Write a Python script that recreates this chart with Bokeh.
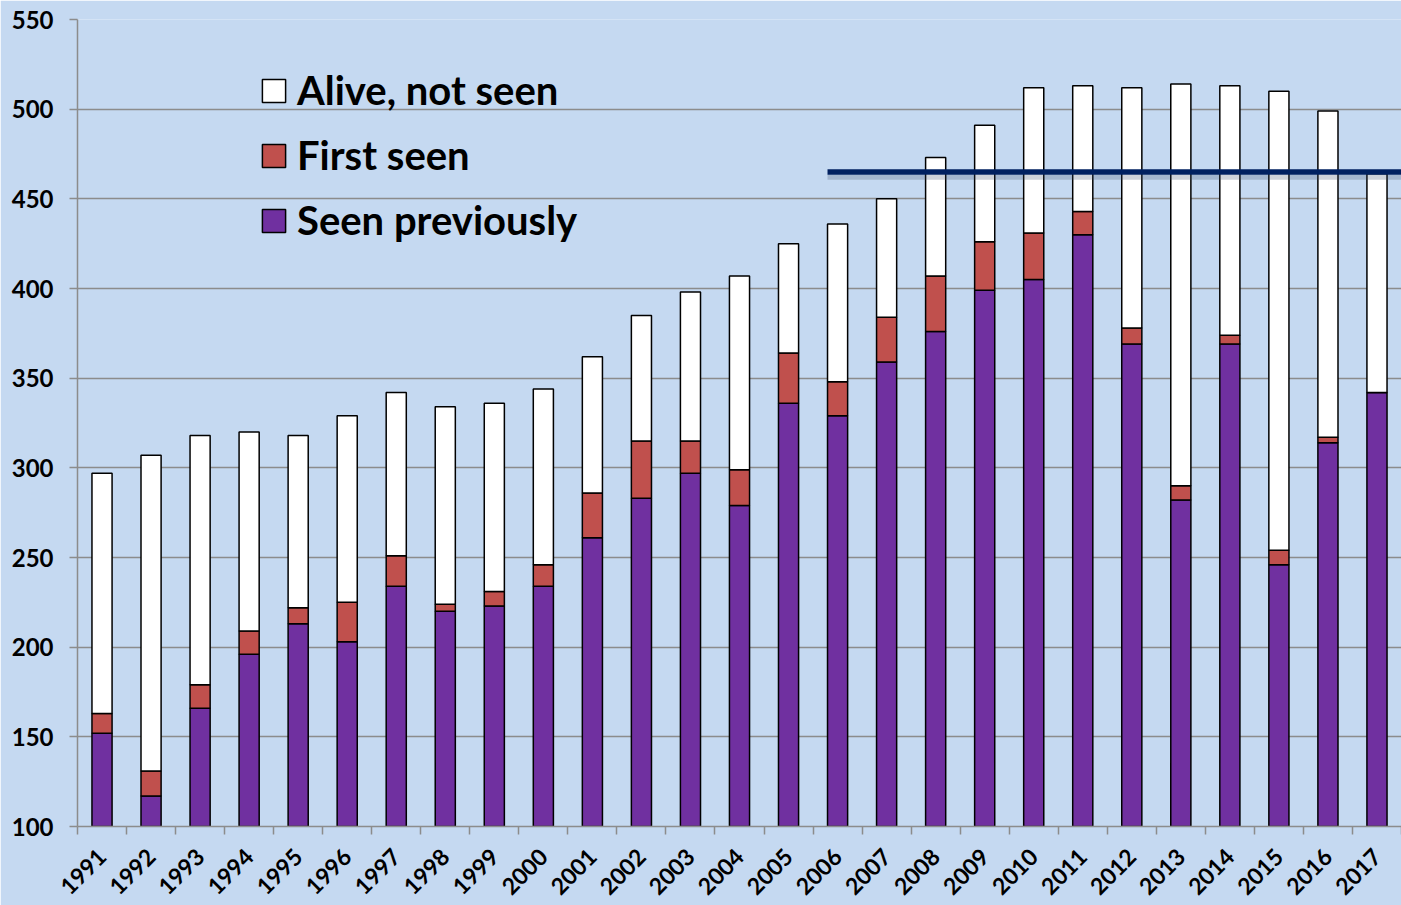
from math import pi
from bokeh.plotting import figure
from bokeh.models import Range1d, FixedTicker, ColumnDataSource, Legend, LegendItem
from bokeh.embed import file_html
from bokeh.resources import INLINE

years = ["1991", "1992", "1993", "1994", "1995", "1996", "1997", "1998", "1999",
         "2000", "2001", "2002", "2003", "2004", "2005", "2006", "2007", "2008",
         "2009", "2010", "2011", "2012", "2013", "2014", "2015", "2016", "2017"]
seen_previously = [152, 117, 166, 196, 213, 203, 234, 220, 223, 234, 261, 283, 297, 279,
                   336, 329, 359, 376, 399, 405, 430, 369, 282, 369, 246, 314, 342]
first_seen = [11, 14, 13, 13, 9, 22, 17, 4, 8, 12, 25, 32, 18, 20,
              28, 19, 25, 31, 27, 26, 13, 9, 8, 5, 8, 3, 0]
alive_not_seen = [134, 176, 139, 111, 96, 104, 91, 110, 105, 98, 76, 70, 83, 108,
                  61, 88, 66, 66, 65, 81, 70, 134, 224, 139, 256, 182, 122]
y_ticks = [100, 150, 200, 250, 300, 350, 400, 450, 500, 550]
threshold = 465
threshold_from = "2006"

BG = "#C5D9F1"
GRID = "#8C8C8C"
FONT = "Lato"
BAR_W = 0.41

xpos = list(range(len(years)))
src = ColumnDataSource(dict(x=xpos, prev=seen_previously, first=first_seen, alive=alive_not_seen))

p = figure(width=1401, height=905,
           x_range=Range1d(-0.5, len(years) - 0.5), y_range=Range1d(100, 550),
           output_backend="svg", toolbar_location=None,
           min_border_left=77, min_border_right=0, min_border_top=19, min_border_bottom=78,
           background_fill_color=BG, border_fill_color=BG, outline_line_color=None)

rs = p.vbar_stack(["prev", "first", "alive"], x="x", width=BAR_W, source=src,
                  fill_color=["#7030A0", "#C0504D", "#FFFFFF"],
                  line_color="black", line_width=1.5)

x0 = years.index(threshold_from) - BAR_W / 2
x1 = p.x_range.end
p.line([x0, x1], [threshold - 3, threshold - 3], line_color="#3A4A66", line_alpha=0.25, line_width=5)
p.line([x0, x1], [threshold, threshold], line_color="#002060", line_width=5.5)

# axes
xa = p.xaxis[0]
xa.ticker = FixedTicker(ticks=xpos, minor_ticks=[i - 0.5 for i in range(len(years) + 1)])
xa.major_label_overrides = {i: y for i, y in zip(xpos, years)}
xa.major_label_orientation = pi / 4
xa.major_tick_out = 0
xa.major_tick_in = 0
xa.minor_tick_out = 8
xa.minor_tick_in = 0
xa.minor_tick_line_color = GRID
xa.minor_tick_line_width = 1.5
xa.axis_line_color = GRID
xa.axis_line_width = 1.5
xa.major_label_text_font = FONT
xa.major_label_text_font_style = "bold"
xa.major_label_text_font_size = "23px"
xa.major_label_text_color = "black"
xa.major_label_standoff = 18

ya = p.yaxis[0]
ya.ticker = FixedTicker(ticks=y_ticks)
ya.major_tick_out = 8
ya.major_tick_in = 0
ya.minor_tick_line_color = None
ya.major_tick_line_color = GRID
ya.major_tick_line_width = 1.5
ya.axis_line_color = GRID
ya.axis_line_width = 1.5
ya.major_label_text_font = FONT
ya.major_label_text_font_style = "bold"
ya.major_label_text_font_size = "24px"
ya.major_label_text_color = "black"
ya.major_label_standoff = 16

p.xgrid.visible = False
p.ygrid.grid_line_color = GRID
p.ygrid.grid_line_width = 1.5

legend = Legend(items=[LegendItem(label="Alive, not seen", renderers=[rs[2]]),
                       LegendItem(label="First seen", renderers=[rs[1]]),
                       LegendItem(label="Seen previously", renderers=[rs[0]])],
                location=(182, 582), orientation="vertical",
                glyph_width=29, glyph_height=29, label_standoff=9,
                spacing=17, padding=0, margin=0,
                background_fill_alpha=0, border_line_color=None,
                label_text_font=FONT, label_text_font_style="bold",
                label_text_font_size="40px", label_text_color="black")
p.add_layout(legend)

open("out.html", "w").write(file_html(p, INLINE))
